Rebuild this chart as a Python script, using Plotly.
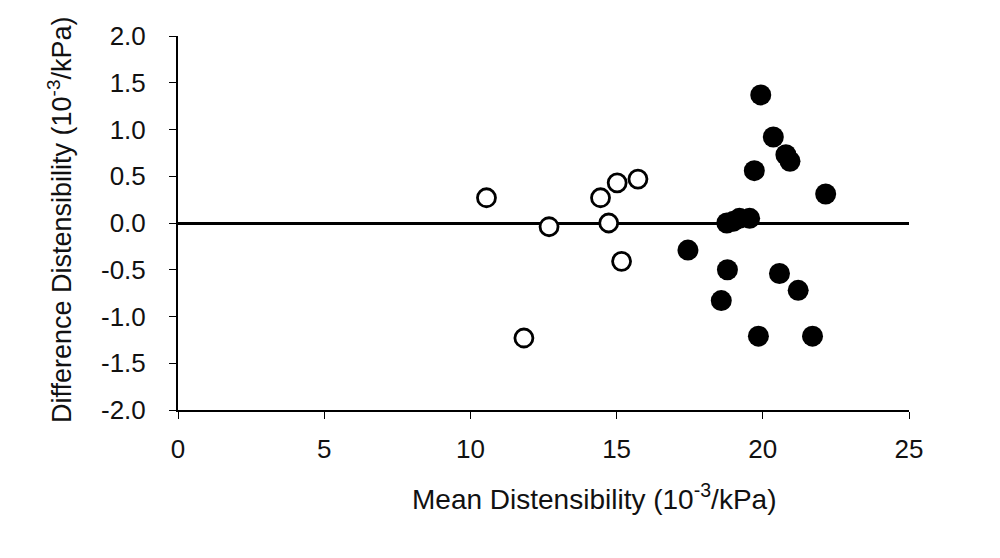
#!/usr/bin/env python3
import plotly.graph_objects as go

# open circles
OPEN_MEAN = [10.55, 11.83, 12.69, 14.45, 14.73, 15.02, 15.17, 15.73]
OPEN_DIFF = [0.27, -1.23, -0.04, 0.27, 0.00, 0.43, -0.41, 0.47]

# filled circles
FILLED_MEAN = [17.44, 18.58, 18.77, 18.79, 19.0, 19.2, 19.55, 19.71, 19.85,
               19.93, 20.36, 20.57, 20.79, 20.93, 21.21, 21.70, 22.15]
FILLED_DIFF = [-0.29, -0.83, 0.00, -0.50, 0.02, 0.05, 0.05, 0.56, -1.21,
               1.37, 0.92, -0.54, 0.73, 0.66, -0.72, -1.21, 0.31]

X_TICKS = [0, 5, 10, 15, 20, 25]
Y_TICKS = [-2.0, -1.5, -1.0, -0.5, 0.0, 0.5, 1.0, 1.5, 2.0]

FONT = "Liberation Sans, Arial, sans-serif"
TXT = "#111111"

fig = go.Figure()
fig.add_trace(go.Scatter(
    x=OPEN_MEAN, y=OPEN_DIFF, mode="markers",
    marker=dict(symbol="circle", size=18, color="white",
                line=dict(color="black", width=2.8)),
))
fig.add_trace(go.Scatter(
    x=FILLED_MEAN, y=FILLED_DIFF, mode="markers",
    marker=dict(symbol="circle", size=21, color="black",
                line=dict(color="black", width=0)),
))

axis_common = dict(
    showgrid=False, showline=True, linecolor="black", linewidth=2,
    ticks="outside", ticklen=7, tickwidth=1, tickcolor="black",
    tickfont=dict(family=FONT, size=26, color=TXT),
    fixedrange=True,
)

fig.update_xaxes(range=[0, 25], tickvals=X_TICKS, ticktext=[str(v) for v in X_TICKS],
                 zeroline=False, ticklabelstandoff=8, **axis_common)
fig.update_yaxes(range=[-2, 2], tickvals=Y_TICKS, ticktext=[f"{v:.1f}" for v in Y_TICKS],
                 zeroline=True, zerolinecolor="black", zerolinewidth=2.5,
                 ticklabelstandoff=18, **axis_common)

fig.add_annotation(
    text="Mean Distensibility (10<sup>-3</sup>/kPa)", xref="paper", yref="paper",
    x=0.569, y=-0.233, xanchor="center", yanchor="middle", showarrow=False,
    font=dict(family=FONT, size=28, color=TXT),
)
fig.add_annotation(
    text="Difference Distensibility (10<sup>-3</sup>/kPa)", xref="paper", yref="paper",
    x=-0.1614, y=0.508, xanchor="center", yanchor="middle", showarrow=False,
    textangle=-90, font=dict(family=FONT, size=27, color=TXT),
)

fig.update_layout(
    width=1000, height=558, showlegend=False,
    paper_bgcolor="white", plot_bgcolor="white",
    margin=dict(l=170, r=99, t=28, b=156, autoexpand=False),
)

fig.write_html("out.html")
